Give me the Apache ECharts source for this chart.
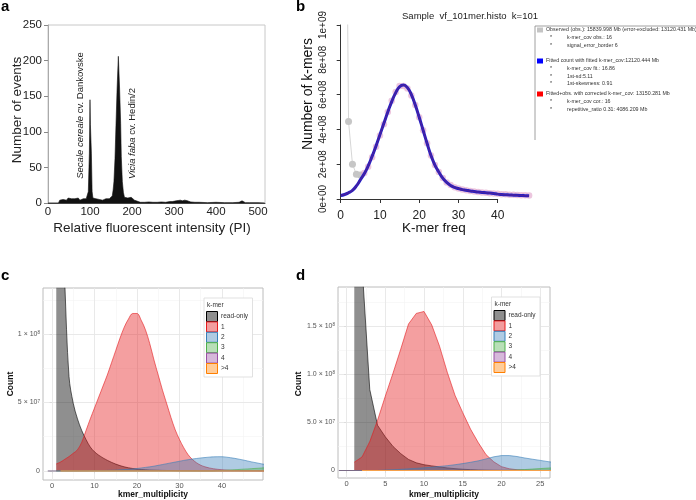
<!DOCTYPE html>
<html><head><meta charset="utf-8">
<script src="https://cdn.jsdelivr.net/npm/echarts@6/dist/echarts.min.js"></script>
<style>html,body{margin:0;padding:0;background:#fff}#c{width:696px;height:500px}</style>
</head><body><div id="c"></div>
<script>
// ---------- Panel a: flow cytometry histogram ----------
const aX = [0, 25, 28, 32, 36, 40, 44, 48, 52, 56,
  60, 64, 68, 72, 76, 80, 84, 88, 91, 94,
  96, 98.5, 100, 101, 103.3, 105, 107, 110, 114, 118,
  122, 126, 130, 134, 138, 142, 146, 150, 153, 155,
  157, 159.5, 162, 164.5, 167.5, 170.5, 173, 174.5, 177, 179.5,
  182, 186, 190, 194, 198, 202, 206, 210, 215, 220,
  230, 240, 250, 260, 270, 280, 290, 296, 300, 305,
  310, 315, 320, 325, 330, 335, 340, 350, 360, 380,
  400, 420, 440, 455, 462, 466, 470, 480, 500, 516];
const aY = [0, 0, 4, 6, 5, 6, 4, 7, 5, 6,
  4, 6, 5, 7, 4, 5, 6, 4, 6, 8,
  16, 70, 145, 110, 70, 16, 7, 5, 6, 4,
  5, 6, 4, 5, 6, 5, 6, 7, 10, 18,
  30, 62, 112, 160, 206, 160, 112, 65, 30, 15,
  8, 10, 7, 9, 8, 6, 4, 3, 2, 1,
  1, 1.5, 1, 1, 1.5, 1, 2, 2, 2.5, 3,
  3.5, 4, 3, 4, 3.5, 2.5, 1.5, 1, 1, 0.5,
  1, 0.5, 0.5, 1, 3, 1, 0.5, 0.5, 0.5, 0];
const aXTicks = [0, 100, 200, 300, 400, 500];
const aYTicks = [0, 50, 100, 150, 200, 250];

// ---------- Panel b: k-mer fit (values in 1e8) ----------
const bObsX = [1, 2, 3, 4, 5];
const bObs = [30, 4.45, 2.0, 1.42, 1.38];
const bFitX = [0,1,2,3,4,5,6,7,8,9,10,11,12,13,14,15,16,17,18,19,20,21,22,23,24,25,26,27,28,29,30,31,32,33,34,35,36,37,38,39,40,41,42,43,44,45,46,47,48];
const bFit = [0.20, 0.26, 0.36, 0.50, 0.75, 1.10, 1.45, 1.90, 2.45, 3.05,
  3.70, 4.35, 5.00, 5.60, 6.10, 6.45, 6.55, 6.40, 6.00, 5.40,
  4.70, 3.95, 3.20, 2.50, 1.95, 1.55, 1.20, 0.95, 0.78, 0.67,
  0.60, 0.54, 0.50, 0.46, 0.43, 0.40, 0.38, 0.36, 0.34, 0.32,
  0.28, 0.26, 0.245, 0.23, 0.22, 0.21, 0.20, 0.19, 0.18];
const bCorX = [6,7,8,9,10,11,12,13,14,15,16,17,18,19,20,21,22,23,24,25,26,27,28,29,30,31,32,33,34,35,36,37,38,39,40,41,42,43,44,45,46,47,48];
const bCor = [1.50, 1.85, 2.40, 3.00, 3.65, 4.30, 5.00, 5.65, 6.15, 6.50,
  6.50, 6.35, 5.95, 5.40, 4.70, 3.95, 3.20, 2.50, 1.95, 1.55,
  1.20, 0.95, 0.80, 0.68, 0.60, 0.55, 0.50, 0.46, 0.43, 0.40,
  0.38, 0.36, 0.33, 0.31, 0.30, 0.28, 0.27, 0.25, 0.24, 0.23,
  0.22, 0.21, 0.20];
const bXTicks = [0, 10, 20, 30, 40];
const bYTickLabels = ['0e+00', '2e+08', '4e+08', '6e+08', '8e+08', '1e+09'];

// ---------- Panel c (values in 1e7) ----------
const cX = [1,2,3,4,5,6,7,8,9,10,11,12,13,14,15,16,17,18,19,20,21,22,23,24,25,26,27,28,29,30,31,32,33,34,35,36,37,38,39,40,41,42,43,44,45,46,47,48,49,50];
const cReadOnly = [30, 22, 13.8, 6.9, 4.94, 3.8, 2.95, 2.3, 1.75, 1.4,
  1.15, 0.95, 0.78, 0.63, 0.5, 0.39, 0.3, 0.23, 0.18, 0.14,
  0.11, 0.09, 0.07, 0.06, 0.05, 0.04, 0.035, 0.03, 0.025, 0.02,
  0.018, 0.016, 0.014, 0.012, 0.01, 0.01, 0.01, 0.01, 0.01, 0.01,
  0.01, 0.01, 0.01, 0.01, 0.01, 0.01, 0.01, 0.01, 0.01, 0.01];
const cOne = [0.51, 0.65, 0.85, 1.05, 1.29, 1.55, 2.1, 2.95, 3.8, 4.6,
  5.4, 6.2, 7.0, 7.9, 8.8, 9.7, 10.5, 11.1, 11.5, 11.5,
  11.0, 10.3, 9.3, 8.1, 7.0, 5.9, 4.9, 3.9, 3.0, 2.3,
  1.7, 1.2, 0.85, 0.6, 0.42, 0.3, 0.22, 0.16, 0.12, 0.09,
  0.07, 0.05, 0.04, 0.03, 0.03, 0.02, 0.02, 0.02, 0.01, 0.01];
const cTwo = [0, 0, 0, 0, 0, 0, 0.01, 0.01, 0.02, 0.02,
  0.03, 0.03, 0.04, 0.05, 0.06, 0.08, 0.1, 0.12, 0.15, 0.18,
  0.22, 0.26, 0.3, 0.35, 0.41, 0.47, 0.53, 0.59, 0.65, 0.71,
  0.77, 0.82, 0.87, 0.91, 0.95, 0.98, 1.01, 1.03, 1.04, 1.04,
  1.01, 0.97, 0.92, 0.86, 0.8, 0.73, 0.66, 0.6, 0.54, 0.48];
const cThree = [0, 0, 0, 0, 0, 0, 0, 0, 0, 0,
  0, 0, 0, 0, 0, 0, 0, 0, 0, 0,
  0, 0, 0, 0, 0, 0, 0, 0, 0, 0,
  0, 0, 0, 0, 0, 0, 0, 0, 0.02, 0.03,
  0.05, 0.07, 0.09, 0.11, 0.13, 0.15, 0.17, 0.19, 0.21, 0.23];
const cFourX = [-1, 50];
const cFour = [0, 0];
const cGt4X = [2, 50];
const cGt4 = [0, 0];
const cXTicks = [0, 10, 20, 30, 40];
const cXMinor = [5, 15, 25, 35, 45];
const cYTicks = [0, 5e7, 1e8];
const cYMinor = [2.5e7, 7.5e7, 1.25e8];
const cYLabels = ['0', '5 \u00d7 10{s|7}', '1 \u00d7 10{s|8}'];

// ---------- Panel d (values in 1e7) ----------
const dX = [1,2,3,4,5,6,7,8,9,10,11,12,13,14,15,16,17,18,19,20,21,22,23,24,25,26,27];
const dReadOnly = [40, 21.3, 8.4, 4.7, 3.5, 2.5, 1.75, 1.15, 0.8, 0.6,
  0.48, 0.37, 0.27, 0.19, 0.13, 0.09, 0.06, 0.04, 0.03, 0.02,
  0.015, 0.01, 0.01, 0.01, 0.01, 0.01, 0.01];
const dOne = [0.86, 1.4, 3.0, 5.2, 7.7, 10.1, 12.6, 15.2, 16.3, 16.5,
  15.1, 12.9, 10.2, 7.8, 6.0, 4.3, 2.9, 1.65, 0.9, 0.4,
  0.18, 0.08, 0.04, 0.02, 0.01, 0.01, 0];
const dTwo = [0, 0, 0, 0, 0.05, 0.08, 0.12, 0.17, 0.22, 0.28,
  0.34, 0.42, 0.5, 0.6, 0.72, 0.85, 1.0, 1.2, 1.42, 1.55,
  1.55, 1.45, 1.3, 1.17, 1.05, 0.92, 0.82];
const dThree = [0, 0, 0, 0, 0, 0, 0, 0, 0, 0,
  0, 0, 0, 0, 0, 0, 0, 0, 0, 0,
  0.02, 0.05, 0.1, 0.15, 0.2, 0.25, 0.3];
const dFourX = [-1, 27];
const dFour = [0, 0];
const dGt4X = [2, 27];
const dGt4 = [0, 0];
const dXTicks = [0, 5, 10, 15, 20, 25];
const dXMinor = [2.5, 7.5, 12.5, 17.5, 22.5];
const dYTicks = [0, 5e7, 1e8, 1.5e8];
const dYMinor = [2.5e7, 7.5e7, 1.25e8, 1.75e8];
const dYLabels = ['0', '5.0 \u00d7 10{s|7}', '1.0 \u00d7 10{s|8}', '1.5 \u00d7 10{s|8}'];

const kmerNames = ['read-only', '1', '2', '3', '4', '>4'];
const kmerLine = ['#000000', '#E41A1C', '#377EB8', '#4DAF4A', '#984EA3', '#FF7F00'];
const kmerFill = ['rgba(0,0,0,0.44)', 'rgba(228,26,28,0.42)', 'rgba(55,126,184,0.4)', 'rgba(77,175,74,0.4)', 'rgba(152,78,163,0.4)', 'rgba(255,127,0,0.4)'];
const kmerKey = ['#8f8f8f', '#f29d9e', '#afcbe3', '#b8dfb7', '#d6b8da', '#ffcc99'];

// ---------- helpers ----------
const FONT = '"Liberation Sans", Arial, Helvetica, sans-serif';
const zip = (xs, ys, k) => xs.map((x, i) => [x, ys[i] * (k || 1)]);
function T(x, y, text, o) {
  return { type: 'text', x: x, y: y, silent: true, z: 100,
    style: Object.assign({ text: text, fontFamily: FONT, fill: '#222', fontSize: 12, align: 'left', verticalAlign: 'middle' }, o || {}) };
}
function TR(x, y, text, o) {
  const t = T(x, y, text, Object.assign({ align: 'center' }, o || {}));
  t.rotation = Math.PI / 2;
  return t;
}
function R(x, y, w, h, fill, stroke, lw) {
  return { type: 'rect', silent: true, z: 100, shape: { x: x, y: y, width: w, height: h }, style: { fill: fill, stroke: stroke || null, lineWidth: lw || 0 } };
}
function L(x1, y1, x2, y2, stroke, lw) {
  return { type: 'line', silent: true, z: 100, shape: { x1: x1, y1: y1, x2: x2, y2: y2 }, style: { stroke: stroke, lineWidth: lw || 1 } };
}
function near(arr, v) { for (let i = 0; i < arr.length; i++) { if (Math.abs(arr[i] - v) < 1e-6 * Math.max(1, Math.abs(v))) return i; } return -1; }

function gridLines(xMaj, xMin, yMaj, yMin) {
  const d = [];
  xMin.forEach(v => d.push({ xAxis: v, lineStyle: { color: '#f3f3f3', width: 0.6 } }));
  yMin.forEach(v => d.push({ yAxis: v, lineStyle: { color: '#f3f3f3', width: 0.6 } }));
  xMaj.forEach(v => d.push({ xAxis: v, lineStyle: { color: '#e6e6e6', width: 0.9 } }));
  yMaj.forEach(v => d.push({ yAxis: v, lineStyle: { color: '#e6e6e6', width: 0.9 } }));
  return { silent: true, symbol: 'none', z: 1, animation: false, label: { show: false }, lineStyle: { type: 'solid' }, data: d };
}

function kmerSeries(gi, xs, arrs, fourX, four, gt4X, gt4, smooth, xMaj, xMin, yMaj, yMin) {
  const out = [];
  out.push({ type: 'line', xAxisIndex: gi, yAxisIndex: gi, data: zip([xs[0]], [0]), symbol: 'none', lineStyle: { opacity: 0 }, silent: true, z: 1,
    markLine: gridLines(xMaj, xMin, yMaj, yMin) });
  arrs.forEach((a, i) => {
    out.push({ type: 'line', name: kmerNames[i], xAxisIndex: gi, yAxisIndex: gi, data: zip(xs, a, 1e7), symbol: 'none', smooth: smooth, silent: true, z: 2 + i,
      lineStyle: { color: kmerLine[i], width: 0.7, opacity: 0.85 }, areaStyle: { color: kmerFill[i], opacity: 1 } });
  });
  out.push({ type: 'line', name: '4', xAxisIndex: gi, yAxisIndex: gi, data: zip(fourX, four), symbol: 'none', silent: true, z: 7,
    lineStyle: { color: '#7a6a86', width: 1 } });
  out.push({ type: 'line', name: '>4', xAxisIndex: gi, yAxisIndex: gi, data: zip(gt4X, gt4), symbol: 'none', silent: true, z: 8,
    lineStyle: { color: '#f5a04a', width: 1 } });
  return out;
}

function ggX(gi, min, max, ticks) {
  return { type: 'value', gridIndex: gi, min: min, max: max, splitLine: { show: false },
    axisLine: { show: false },
    axisTick: { show: true, customValues: ticks, length: 2.5, lineStyle: { color: '#4d4d4d', width: 0.7 } },
    axisLabel: { customValues: ticks, fontSize: 7.5, color: '#555', fontFamily: FONT, margin: 1.5 } };
}
function ggY(gi, min, max, ticks, labels) {
  return { type: 'value', gridIndex: gi, min: min, max: max, splitLine: { show: false },
    axisLine: { show: false },
    axisTick: { show: true, customValues: ticks, length: 2.5, lineStyle: { color: '#4d4d4d', width: 0.7 } },
    axisLabel: { customValues: ticks, fontSize: 7, color: '#555', fontFamily: FONT, margin: 3,
      formatter: v => { const i = near(ticks, v); return i >= 0 ? labels[i] : ''; },
      rich: { s: { fontSize: 4.5, color: '#555', fontFamily: FONT, verticalAlign: 'top', lineHeight: 6 } } } };
}

function ggLegend(bx, by) {
  const g = [R(bx, by, 48.5, 79, '#ffffff', '#d9d9d9', 0.8), T(bx + 3, by + 7, 'k-mer', { fontSize: 6.5, fill: '#333' })];
  kmerNames.forEach((n, i) => {
    const ky = by + 13.5 + i * 10.4;
    g.push(R(bx + 2.5, ky, 11, 10, kmerKey[i], kmerLine[i], 1));
    g.push(T(bx + 17, ky + 5, n, { fontSize: 6.5, fill: '#333' }));
  });
  return g;
}

// ---------- graphic ----------
const graphic = [
  T(1, 7, 'a', { fontSize: 15, fontWeight: 'bold', fill: '#000' }),
  T(296, 7, 'b', { fontSize: 15, fontWeight: 'bold', fill: '#000' }),
  T(1, 276, 'c', { fontSize: 15, fontWeight: 'bold', fill: '#000' }),
  T(296, 276, 'd', { fontSize: 15, fontWeight: 'bold', fill: '#000' }),
  TR(17, 110, 'Number of events', { fontSize: 13.5, fill: '#222' }),
  T(152, 228, 'Relative fluorescent intensity (PI)', { fontSize: 13.5, align: 'center', fill: '#222' }),
  TR(80, 115.5, '{i|Secale cereale} cv. Dankovske', { fontSize: 9.5, fill: '#222', rich: { i: { fontStyle: 'italic', fontSize: 9.5, fontFamily: FONT, fill: '#222' } } }),
  TR(132, 133.5, '{i|Vicia faba} cv. Hedin/2', { fontSize: 9.5, fill: '#222', rich: { i: { fontStyle: 'italic', fontSize: 9.5, fontFamily: FONT, fill: '#222' } } }),
  T(470, 16, 'Sample  vf_101mer.histo  k=101', { fontSize: 9.5, align: 'center', fill: '#222' }),
  TR(308, 94, 'Number of k-mers', { fontSize: 14, fill: '#111' }),
  T(434, 228, 'K-mer freq', { fontSize: 13.5, align: 'center', fill: '#111' }),
  // legend of b
  L(535, 26, 700, 26, '#888', 0.8),
  L(535, 26, 535, 140, '#888', 0.8),
  R(537, 27.5, 6, 5, '#c4c4c4'),
  T(546, 30, 'Observed (obs.): 15839.998 Mb (error-excluded: 13120.431 Mb)', { fontSize: 5.3, fill: '#333' }),
  T(550, 38, '*', { fontSize: 5.3, fill: '#333' }), T(567, 38, 'k-mer_cov obs.: 16', { fontSize: 5.3, fill: '#333' }),
  T(550, 46, '*', { fontSize: 5.3, fill: '#333' }), T(567, 46, 'signal_error_border 6', { fontSize: 5.3, fill: '#333' }),
  R(537, 58.5, 6, 5, '#0000ff'),
  T(546, 61, 'Fitted count with fitted k-mer_cov:12120.444 Mb', { fontSize: 5.3, fill: '#333' }),
  T(550, 69, '*', { fontSize: 5.3, fill: '#333' }), T(567, 69, 'k-mer_cov fit.: 16.86', { fontSize: 5.3, fill: '#333' }),
  T(550, 76.5, '*', { fontSize: 5.3, fill: '#333' }), T(567, 76.5, '1st-sd:5.11', { fontSize: 5.3, fill: '#333' }),
  T(550, 84, '*', { fontSize: 5.3, fill: '#333' }), T(567, 84, '1st-skewness: 0.91', { fontSize: 5.3, fill: '#333' }),
  R(537, 91.5, 6, 5, '#ff0000'),
  T(546, 94, 'Fitted+obs. with corrected k-mer_cov: 13150.281 Mb', { fontSize: 5.3, fill: '#333' }),
  T(550, 102, '*', { fontSize: 5.3, fill: '#333' }), T(567, 102, 'k-mer_cov cor.: 16', { fontSize: 5.3, fill: '#333' }),
  T(550, 110, '*', { fontSize: 5.3, fill: '#333' }), T(567, 110, 'repetitive_ratio 0.31: 4086.209 Mb', { fontSize: 5.3, fill: '#333' }),
  // c and d titles
  TR(11, 384, 'Count', { fontSize: 8.5, fontWeight: 'bold', fill: '#111' }),
  T(153, 495, 'kmer_multiplicity', { fontSize: 8.5, fontWeight: 'bold', align: 'center', fill: '#111' }),
  TR(299, 384, 'Count', { fontSize: 8.5, fontWeight: 'bold', fill: '#111' }),
  T(444, 495, 'kmer_multiplicity', { fontSize: 8.5, fontWeight: 'bold', align: 'center', fill: '#111' })
].concat(ggLegend(204, 298), ggLegend(491.5, 297));

// ---------- option ----------
const option = {
  animation: false,
  backgroundColor: '#ffffff',
  textStyle: { fontFamily: FONT },
  grid: [
    { left: 48, top: 25, width: 217, height: 178, show: true, borderColor: '#c8c8c8', borderWidth: 1, backgroundColor: 'transparent', outerBoundsMode: 'none' },
    { left: 340.7, top: 25, width: 157, height: 174, outerBoundsMode: 'none' },
    { left: 332.85, top: 25, width: 204.1, height: 174, outerBoundsMode: 'none' },
    { left: 43, top: 288, width: 220, height: 192, show: true, borderColor: '#bcbcbc', borderWidth: 1, backgroundColor: '#ffffff', outerBoundsMode: 'none' },
    { left: 338, top: 287, width: 212, height: 191, show: true, borderColor: '#bcbcbc', borderWidth: 1, backgroundColor: '#ffffff', outerBoundsMode: 'none' }
  ],
  xAxis: [
    { type: 'value', gridIndex: 0, min: 0, max: 516.7, splitLine: { show: false },
      axisLine: { show: true, lineStyle: { color: '#444', width: 1 } }, axisTick: { show: false },
      axisLabel: { customValues: aXTicks, fontSize: 11.5, color: '#222', margin: 3 } },
    { type: 'value', gridIndex: 1, min: 0, max: 40, interval: 10, offset: 8, splitLine: { show: false },
      axisLine: { show: true, lineStyle: { color: '#333', width: 1 } },
      axisTick: { show: true, length: 4, lineStyle: { color: '#333' } },
      axisLabel: { customValues: bXTicks, fontSize: 12, color: '#222', margin: 3 } },
    { type: 'value', gridIndex: 2, min: -2, max: 50, show: false, splitLine: { show: false } },
    ggX(3, -2.12, 49.65, cXTicks),
    ggX(4, -1.10, 26.26, dXTicks)
  ],
  yAxis: [
    { type: 'value', gridIndex: 0, min: 0, max: 250, interval: 50, splitLine: { show: false },
      axisLine: { show: true, lineStyle: { color: '#aaa' } },
      axisTick: { show: true, length: 4, lineStyle: { color: '#888' } },
      axisLabel: { fontSize: 11.5, color: '#222', margin: 6 } },
    { type: 'value', gridIndex: 1, min: 0, max: 1e9, interval: 2e8, offset: 7.7, splitLine: { show: false },
      axisLine: { show: true, lineStyle: { color: '#333', width: 1 } },
      axisTick: { show: true, length: 4, lineStyle: { color: '#333' } },
      axisLabel: { rotate: 90, fontSize: 10, color: '#222', margin: 5,
        formatter: v => bYTickLabels[Math.round(v / 2e8)] } },
    { type: 'value', gridIndex: 2, min: 0, max: 1e9, show: false, splitLine: { show: false } },
    ggY(3, -0.66e7, 1.336e8, cYTicks, cYLabels),
    ggY(4, -0.778e7, 1.904e8, dYTicks, dYLabels)
  ],
  graphic: graphic,
  series: [
    { type: 'line', xAxisIndex: 0, yAxisIndex: 0, data: zip(aX, aY), symbol: 'none', silent: true,
      lineStyle: { color: '#111', width: 0.6 }, areaStyle: { color: '#111', opacity: 1 } },
    { type: 'line', name: 'Observed', xAxisIndex: 2, yAxisIndex: 2, data: zip(bObsX, bObs, 1e8), symbol: 'circle', symbolSize: 7, silent: true, z: 2,
      itemStyle: { color: '#c6c6c6' }, lineStyle: { color: '#d6d6d6', width: 1 } },
    { type: 'scatter', name: 'Corrected', xAxisIndex: 2, yAxisIndex: 2, data: zip(bCorX, bCor, 1e8), symbolSize: 6.5, silent: true, z: 3,
      itemStyle: { color: 'rgba(226,166,204,0.8)' } },
    { type: 'line', name: 'Fitted', xAxisIndex: 2, yAxisIndex: 2, data: zip(bFitX, bFit, 1e8), symbol: 'none', smooth: true, silent: true, z: 4,
      lineStyle: { color: '#2020c8', width: 3 } },
    { type: 'line', name: 'Fitted+obs', xAxisIndex: 2, yAxisIndex: 2, data: zip(bFitX, bFit, 1e8), symbol: 'none', smooth: true, silent: true, z: 5,
      lineStyle: { color: 'rgba(120,30,110,0.45)', width: 1.6 } }
  ].concat(
    kmerSeries(3, cX, [cReadOnly, cOne, cTwo, cThree], cFourX, cFour, cGt4X, cGt4, 0.35, cXTicks, cXMinor, cYTicks, cYMinor),
    kmerSeries(4, dX, [dReadOnly, dOne, dTwo, dThree], dFourX, dFour, dGt4X, dGt4, false, dXTicks, dXMinor, dYTicks, dYMinor)
  )
};

const chart = echarts.init(document.getElementById('c'), null, { renderer: 'canvas' });
chart.setOption(option);
</script></body></html>
